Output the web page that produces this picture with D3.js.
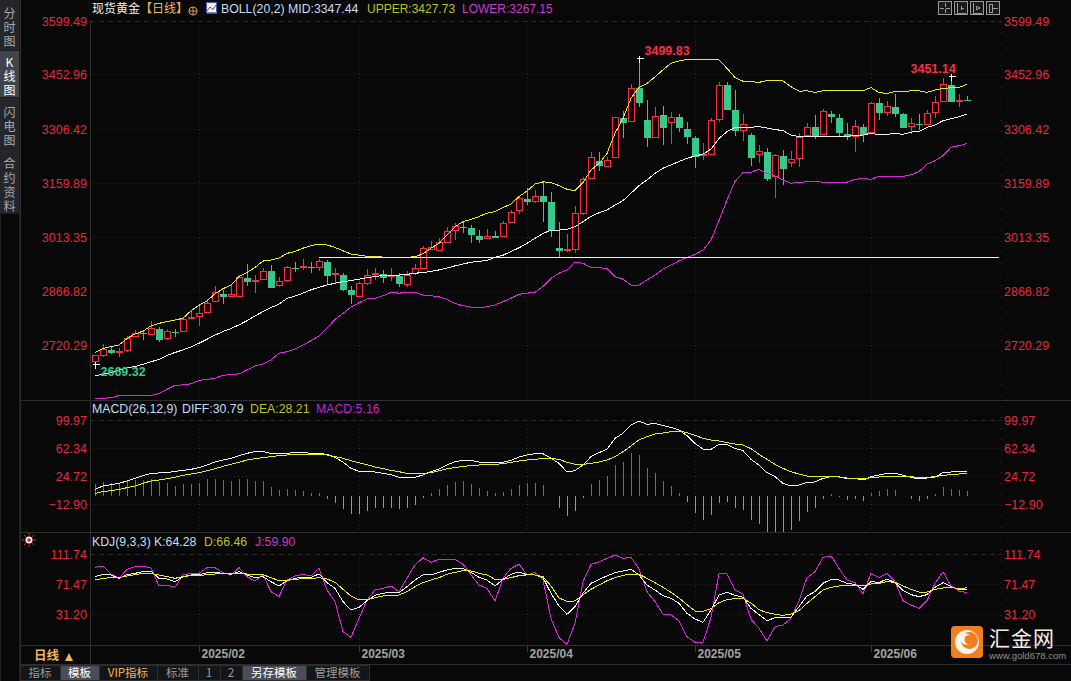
<!DOCTYPE html>
<html>
<head>
<meta charset="utf-8">
<title>现货黄金</title>
<script src="https://cdn.jsdelivr.net/npm/d3@7"></script>
<style>
  html, body { margin: 0; padding: 0; background: #080808; overflow: hidden; }
  svg { display: block; }
  text { font-family: "Liberation Sans", Arial, sans-serif; }
  .cjk { font-family: "Noto Sans CJK SC", sans-serif; }
</style>
</head>
<body>
<div id="chart"></div>
<script>
// tick labels
var priceTicks = [3599.49, 3452.96, 3306.42, 3159.89, 3013.35, 2866.82, 2720.29];
var macdTicks = [99.97, 62.34, 24.72, -12.90];
var kdjTicks = [111.74, 71.47, 31.20];
var monthIdx = [13, 33, 54, 75, 97];
var monthLabels = ["2025/02", "2025/03", "2025/04", "2025/05", "2025/06"];

// daily candles
var opens = [2675,2692,2709,2700,2705,2743,2755,2751,2767,2738,
2759,2757,2792,2800,2811,2838,2861,2852,2854,2905,
2895,2900,2924,2882,2895,2933,2931,2934,2931,2948,
2913,2913,2871,2854,2889,2913,2916,2907,2909,2884,
2914,2930,2980,2980,2998,3031,3042,3040,3019,3010,
3019,3015,3053,3085,3119,3112,3127,3111,2986,2976,
2980,3079,3175,3222,3208,3230,3338,3330,3420,3334,
3287,3347,3325,3342,3309,3285,3235,3238,3334,3429,
3360,3306,3293,3237,3247,3178,3235,3216,3227,3288,
3314,3291,3349,3338,3296,3287,3314,3296,3379,3351,
3369,3349,3313,3322,3319,3354,3383,3428,3384,3388];
var closes = [2692,2709,2700,2703,2738,2752,2753,2766,2737,2757,
2757,2790,2795,2808,2835,2863,2852,2858,2905,2895,
2898,2922,2878,2893,2931,2931,2935,2932,2947,2911,
2915,2872,2857,2888,2911,2916,2906,2909,2886,2909,
2928,2983,2985,3001,3029,3042,3040,3020,3009,3015,
3014,3050,3080,3118,3112,3125,3112,3032,2979,2980,
3078,3170,3231,3208,3223,3338,3324,3419,3378,3286,
3343,3313,3338,3313,3286,3234,3239,3330,3425,3362,
3303,3321,3231,3246,3174,3235,3199,3224,3284,3311,
3290,3354,3340,3296,3288,3314,3293,3376,3351,3368,
3351,3310,3322,3319,3349,3381,3428,3383,3385,3386];
var highs = [2692,2722,2714,2711,2745,2761,2758,2785,2770,2764,
2764,2795,2815,2829,2845,2880,2870,2883,2910,2940,
2910,2928,2937,2905,2935,2946,2954,2946,2954,2951,
2930,2917,2880,2892,2927,2929,2924,2929,2915,2920,
2939,2989,3003,3010,3040,3052,3056,3046,3032,3034,
3030,3056,3087,3123,3145,3141,3163,3135,3055,3022,
3098,3175,3244,3244,3231,3340,3354,3428,3499.83,3385,
3365,3369,3353,3346,3325,3287,3268,3335,3434,3434,
3412,3347,3296,3263,3256,3238,3249,3248,3295,3322,
3344,3362,3356,3347,3322,3331,3320,3381,3390,3382,
3401,3351,3336,3347,3358,3396,3446,3451.14,3401,3396];
var lows = [2669.32,2689,2696,2689,2702,2741,2734,2750,2729,2735,
2743,2756,2792,2772,2808,2838,2832,2852,2854,2881,
2862,2899,2876,2879,2892,2919,2924,2917,2922,2886,
2888,2868,2832,2853,2882,2897,2889,2895,2879,2879,
2910,2930,2978,2978,2996,3005,3025,2998,2996,3007,
3011,3014,3052,3076,3100,3105,3055,3014,2958,2974,
2971,3073,3174,3193,3206,3229,3283,3329,3367,3258,
3286,3264,3265,3299,3266,3201,3222,3236,3325,3360,
3288,3275,3207,3215,3166,3120,3154,3202,3204,3287,
3280,3290,3324,3287,3277,3245,3272,3295,3332,3343,
3339,3308,3294,3304,3316,3337,3381,3382,3366,3386];

// BOLL(20,2)
var bollUpper = [2700,2711,2716,2720,2738,2750,2758,2772,2779,2784,
2788,2793,2813,2828,2840,2859,2873,2883,2906,2917,
2931,2948,2951,2956,2969,2974,2983,2990,2994,2992,
2985,2976,2967,2964,2961,2960,2959,2958,2958,2958,
2960,2968,2983,2996,3019,3041,3055,3061,3069,3078,
3082,3093,3103,3123,3138,3157,3163,3161,3153,3143,
3139,3161,3195,3213,3240,3295,3335,3390,3419,3430,
3448,3467,3485,3491,3495,3495,3495,3495,3494,3471,
3446,3436,3435,3433,3438,3438,3437,3421,3409,3410,
3406,3410,3410,3410,3410,3410,3410,3419,3405,3403,
3408,3408,3410,3410,3406,3412,3417,3418,3419,3427.73];
var bollMid = [2637,2641,2645,2652,2658,2662,2668,2675,2681,2692,
2700,2707,2715,2725,2736,2747,2757,2765,2775,2786,
2799,2811,2822,2831,2847,2853,2861,2870,2877,2883,
2888,2892,2895,2899,2903,2906,2909,2910,2910,2912,
2915,2917,2920,2924,2929,2935,2940,2945,2947,2950,
2958,2964,2974,2984,2996,3010,3023,3032,3032,3034,
3041,3055,3069,3079,3087,3100,3112,3132,3153,3168,
3186,3200,3209,3218,3227,3233,3238,3252,3281,3299,
3311,3310,3311,3313,3309,3305,3302,3290,3286,3286,
3286,3286,3286,3287,3287,3288,3290,3295,3291,3292,
3294,3292,3298,3300,3311,3317,3329,3334,3340,3347.44];
var bollLower = [2575,2576,2577,2583,2582,2582,2583,2583,2589,2600,
2611,2612,2615,2624,2627,2630,2638,2640,2642,2653,
2663,2669,2680,2698,2702,2709,2720,2732,2745,2766,
2790,2806,2823,2835,2845,2847,2854,2863,2861,2863,
2863,2856,2854,2851,2844,2833,2827,2823,2822,2824,
2829,2838,2847,2858,2861,2863,2879,2901,2915,2924,
2945,2942,2931,2930,2928,2906,2899,2883,2883,2897,
2910,2926,2937,2949,2958,2966,2978,3005,3058,3114,
3164,3188,3189,3197,3186,3179,3168,3159,3162,3163,
3164,3162,3162,3162,3162,3170,3172,3170,3178,3178,
3178,3178,3182,3191,3211,3220,3234,3257,3261,3267.15];
var supportLevel = 2957.7;
var supportFrom = 28;
var supportTo = 113;

// MACD(26,12,9)
var diffVals = [6.8,11.3,13.1,14.9,18.0,21.6,25.2,28.3,28.8,29.2,
31.0,32.3,33.7,35.9,39.5,43.5,46.2,48.5,52.0,55.2,
57.4,57.4,55.2,55.2,55.2,56.5,56.5,55.2,55.2,53.8,
49.8,43.5,35.0,31.0,31.0,30.1,28.3,26.5,22.9,22.9,
22.9,26.1,30.5,34.1,39.5,44.0,45.8,45.8,43.5,43.1,
42.2,43.1,45.8,50.2,52.9,
54.7,54.7,48.5,41.7,30.1,31.9,39.5,50.7,56.1,60.6,
75.3,82.1,93.3,98.6,94.1,95.5,92.4,90.1,86.5,78.9,
68.6,61.0,60.6,67.3,67.3,61.9,58.8,47.1,39.5,29.2,
23.8,14.9,11.3,12.6,16.2,16.7,21.6,23.8,23.8,21.1,
21.6,19.3,23.8,26.1,28.3,28.3,25.6,22.9,20.7,22.0,
23.4,29.2,30.1,30.1,30.79];
var deaVals = [1.4,3.7,5.0,6.8,9.0,11.3,14.9,18.0,19.3,21.1,
22.9,25.6,27.4,29.2,31.9,34.6,37.7,40.4,43.1,46.2,
48.0,49.4,50.7,52.0,52.9,53.8,53.8,53.8,54.3,52.9,
50.7,48.5,45.3,42.6,40.0,36.8,34.6,32.3,30.5,28.3,
28.3,28.3,29.2,31.9,34.6,35.9,37.7,38.6,39.5,40.4,
40.4,41.3,43.1,44.9,46.2,
47.1,48.5,48.5,47.1,43.1,40.4,40.4,41.7,43.5,46.2,
50.7,57.4,65.0,73.1,77.6,81.2,82.5,84.3,85.2,83.0,
79.4,75.3,73.1,71.7,69.5,67.7,66.4,61.4,53.8,47.1,
40.4,35.0,30.5,27.4,24.7,24.3,24.3,24.3,23.4,22.0,
22.0,20.7,22.5,23.4,24.3,24.3,24.3,23.8,22.5,22.9,
23.8,25.6,26.5,27.4,28.21];
var macdBars = [13.5,16.7,14.9,14.9,18.0,19.3,18.9,20.2,16.2,14.9,
11.3,14.0,14.0,15.8,20.2,20.7,19.3,18.0,20.7,20.7,
18.0,18.0,10.0,5.9,7.7,5.9,4.6,2.3,1.9,-5.7,
-11.1,-20.1,-26.3,-25.9,-22.3,-18.7,-18.7,-17.8,-20.1,-17.8,
-14.2,-4.4,1.4,7.7,12.6,17.1,18.0,14.0,8.6,4.6,
2.3,3.2,7.3,13.1,14.9,
14.9,12.6,-2.5,-18.3,-28.6,-22.3,-4.4,14.4,19.3,24.7,
39.5,43.5,55.2,52.9,35.5,28.8,18.0,11.3,1.9,-9.8,
-25.0,-34.0,-27.2,-11.5,-9.8,-17.8,-20.5,-34.0,-39.3,-50.1,
-51,-51,-47.4,-35.3,-23.6,-18.3,-5.7,0.5,-3.5,-7.1,
-5.7,-8.4,1.9,4.6,7.7,5.9,-2.2,-6.2,-8.4,-6.2,
0.2,10.0,7.3,5.9,5.16];
var macdBase = -1.5;

// KDJ(9,3,3)
var kVals = [81.3,84.5,83.6,79.1,84.0,85.8,88.0,88.5,79.1,78.2,
74.6,81.3,83.6,83.6,86.7,87.1,85.8,84.5,88.0,83.6,
80.0,81.3,74.6,68.8,75.9,79.1,80.4,80.4,84.9,73.3,
65.7,47.8,36.6,40.2,49.1,56.3,59.0,60.7,59.8,67.9,
76.8,83.6,83.6,87.1,90.3,92.5,92.5,87.1,80.4,76.8,
68.8,77.7,84.5,87.6,83.6,
83.6,80.0,59.0,42.0,30.8,41.0,59.0,72.4,77.7,82.2,
86.7,88.9,91.2,83.6,70.1,63.4,55.8,52.2,45.5,32.1,
24.5,20.0,36.6,56.7,60.3,56.3,53.6,38.8,30.3,22.2,
26.3,26.3,26.7,41.0,55.4,61.2,72.4,77.7,76.8,72.4,
71.0,64.3,74.6,73.7,77.7,73.7,62.5,57.2,54.5,57.2,
67.0,73.3,67.9,64.3,64.28];
var dVals = [76.8,79.1,80.0,80.0,82.2,84.0,85.8,85.8,83.6,81.3,
79.1,81.3,82.7,82.7,84.0,84.9,84.9,84.9,85.8,84.9,
84.5,84.0,80.0,75.9,76.4,77.7,78.6,78.6,80.0,78.2,
73.7,64.3,55.4,50.0,50.5,53.1,55.4,56.7,56.7,61.2,
67.9,73.3,76.8,80.0,84.5,87.1,89.4,89.0,85.8,83.6,
77.7,77.7,80.0,82.7,83.6,
83.6,81.3,68.8,52.7,48.2,48.7,57.2,64.3,70.1,75.9,
80.0,83.1,84.9,84.5,79.1,73.3,67.0,60.3,52.7,43.7,
35.2,34.8,38.4,46.4,50.5,51.8,52.2,46.0,37.0,33.0,
30.8,29.4,31.2,35.7,45.5,54.5,63.4,67.0,68.8,69.2,
69.7,68.8,71.5,72.4,74.6,73.7,68.8,64.3,60.7,60.7,
64.3,66.1,67.0,65.2,66.46];
var jVals = [93.9,95.6,84.5,79.1,91.2,94.7,95.2,93.4,68.8,69.7,
67.0,83.6,85.8,85.8,93.4,93.4,86.7,83.6,93.4,81.3,
75.5,83.6,61.2,54.5,76.8,82.2,84.5,82.2,92.5,63.4,
47.8,7.5,-0.1,25.4,50.0,63.4,65.7,68.8,61.2,79.1,
97.0,106.8,100.6,104.6,104.6,104.6,97.9,83.6,70.1,65.7,
48.7,79.1,92.5,97.9,83.6,
87.1,76.8,25.4,-0.6,-9.5,18.7,74.6,97.9,101.0,105.9,
110.4,105.9,107.3,91.6,61.2,47.8,30.8,29.9,22.2,0.8,
-6.8,-6.8,26.7,85.3,84.9,63.4,58.1,24.1,12.0,-5.0,
14.2,16.4,25.4,49.1,80.0,88.0,107.3,109.1,92.5,76.8,
73.3,58.1,85.8,80.4,85.8,74.6,49.1,43.3,38.8,49.1,
72.4,88.0,68.8,62.1,59.90];

// sidebar and bottom tabs
var sideTabs = [
  {chars: ["分", "时", "图"], y0: 0, y1: 50, ys: [13, 27, 41]},
  {chars: ["K", "线", "图"], y0: 51, y1: 97, ys: [62, 76, 90], on: true},
  {chars: ["闪", "电", "图"], y0: 98, y1: 148, ys: [112, 126, 140]},
  {chars: ["合", "约", "资", "料"], y0: 149, y1: 213, ys: [163, 178, 192, 206]}
];
var bottomTabs = [
  {t: "指标", x0: 20, x1: 60, c: "#9a9a9a"},
  {t: "模板", x0: 60, x1: 99, c: "#ffffff", on: true},
  {t: "VIP指标", x0: 99, x1: 157, c: "#f5b553"},
  {t: "标准", x0: 157, x1: 198, c: "#9a9a9a"},
  {t: "1", x0: 198, x1: 220, c: "#9a9a9a"},
  {t: "2", x0: 220, x1: 242, c: "#9a9a9a"},
  {t: "另存模板", x0: 242, x1: 306, c: "#ffffff", on: true},
  {t: "管理模板", x0: 306, x1: 369, c: "#9a9a9a"}
];

var W = 1071, H = 681;
var RED = "#ff2c46", GREEN = "#36c98b", LABEL = "#e5283f";
var WHITE = "#f2f2f2", YELLOW = "#eaea22", MAGENTA = "#e222e2";
var GRID = "#2b2b2b";

var svg = d3.select("#chart").append("svg").attr("width", W).attr("height", H);
svg.append("rect").attr("width", W).attr("height", H).attr("fill", "#080808");

var x = d3.scaleLinear().domain([0, 109]).range([95, 967]);
var yPrice = d3.scaleLinear().domain([2720.29, 3599.49]).range([345, 21]);
var yMacd = d3.scaleLinear().domain([-12.90, 99.97]).range([504, 420]);
var yKdj = d3.scaleLinear().domain([31.20, 111.74]).range([614, 554]);

var panels = [
  {scale: yPrice, ticks: priceTicks, top: 21, bottom: 400},
  {scale: yMacd, ticks: macdTicks, top: 420, bottom: 532},
  {scale: yKdj, ticks: kdjTicks, top: 554, bottom: 645}
];

svg.append("clipPath").attr("id", "clip-price").append("rect").attr("x", 90).attr("y", 20).attr("width", 911).attr("height", 380);
svg.append("clipPath").attr("id", "clip-macd").append("rect").attr("x", 90).attr("y", 400).attr("width", 911).attr("height", 132);
svg.append("clipPath").attr("id", "clip-kdj").append("rect").attr("x", 90).attr("y", 532).attr("width", 911).attr("height", 113);

// grids and axes
panels.forEach(function(p, pi) {
  var g = svg.append("g").attr("shape-rendering", "crispEdges");
  g.selectAll("line.h").data(p.ticks).enter().append("line")
    .attr("x1", 90).attr("x2", 1001)
    .attr("y1", function(d) { return p.scale(d); })
    .attr("y2", function(d) { return p.scale(d); })
    .attr("stroke", GRID)
    .attr("stroke-dasharray", function(d, i) { return i == 0 ? "5,4" : "1,3"; });
  g.selectAll("line.v").data(monthIdx).enter().append("line")
    .attr("x1", function(d) { return Math.round(x(d)); })
    .attr("x2", function(d) { return Math.round(x(d)); })
    .attr("y1", p.top).attr("y2", p.bottom)
    .attr("stroke", GRID).attr("stroke-dasharray", "1,3");

  var left = d3.axisLeft(p.scale).tickValues(p.ticks).tickSize(0).tickPadding(3).tickFormat(d3.format(".2f"));
  var right = d3.axisRight(p.scale).tickValues(p.ticks).tickSize(0).tickPadding(3).tickFormat(d3.format(".2f"));
  [[left, 90], [right, 1001]].forEach(function(a) {
    var ag = svg.append("g").attr("transform", "translate(" + a[1] + ",0)").call(a[0]);
    ag.select(".domain").remove();
    ag.selectAll("text").attr("fill", LABEL).attr("font-size", "12.5px")
      .attr("font-family", "'Liberation Sans', Arial, sans-serif");
  });
});

// frame lines
var frame = svg.append("g").attr("shape-rendering", "crispEdges");
[400, 532, 645, 664].forEach(function(yy) {
  frame.append("line").attr("x1", 20).attr("x2", W).attr("y1", yy).attr("y2", yy).attr("stroke", "#2e2e2e");
});
frame.append("line").attr("x1", 90).attr("x2", 90).attr("y1", 21).attr("y2", 664).attr("stroke", "#2e2e2e");
frame.append("line").attr("x1", 1001).attr("x2", 1001).attr("y1", 21).attr("y2", 645)
  .attr("stroke", "#3a3a3a").attr("stroke-dasharray", "1,10");
frame.append("line").attr("x1", 20).attr("x2", 20).attr("y1", 0).attr("y2", H).attr("stroke", "#2e2e2e");

// candles
var idx = d3.range(opens.length);
var priceG = svg.append("g").attr("clip-path", "url(#clip-price)").attr("shape-rendering", "crispEdges");
var candle = priceG.selectAll("g.candle").data(idx).enter().append("g");
function isUp(i) { return closes[i] >= opens[i]; }
candle.append("line")
  .attr("x1", function(i) { return Math.round(x(i)) + 0.5; })
  .attr("x2", function(i) { return Math.round(x(i)) + 0.5; })
  .attr("y1", function(i) { return yPrice(highs[i]); })
  .attr("y2", function(i) { return yPrice(lows[i]); })
  .attr("stroke", function(i) { return isUp(i) ? RED : GREEN; });
candle.append("rect")
  .attr("x", function(i) { return Math.round(x(i)) - 3 + (isUp(i) ? 0.5 : 0); })
  .attr("width", function(i) { return isUp(i) ? 6 : 7; })
  .attr("y", function(i) { return Math.round(yPrice(Math.max(opens[i], closes[i]))) + 0.5; })
  .attr("height", function(i) { return Math.max(1, Math.round(Math.abs(yPrice(opens[i]) - yPrice(closes[i])))); })
  .attr("fill", function(i) { return isUp(i) ? "#080808" : GREEN; })
  .attr("stroke", function(i) { return isUp(i) ? RED : "none"; })
  .attr("stroke-width", 1);

// BOLL lines and the level line
function drawLine(parent, scale, vals, color) {
  var line = d3.line().x(function(d, i) { return x(i); }).y(function(d) { return scale(d); });
  parent.append("path").attr("d", line(vals)).attr("fill", "none").attr("stroke", color)
    .attr("stroke-width", 1).attr("shape-rendering", "crispEdges");
}
var bollG = svg.append("g").attr("clip-path", "url(#clip-price)");
drawLine(bollG, yPrice, bollLower, MAGENTA);
drawLine(bollG, yPrice, bollMid, WHITE);
drawLine(bollG, yPrice, bollUpper, YELLOW);
bollG.append("line")
  .attr("x1", x(supportFrom)).attr("x2", x(supportTo))
  .attr("y1", yPrice(supportLevel)).attr("y2", yPrice(supportLevel))
  .attr("stroke", "#fdf8a0").attr("shape-rendering", "crispEdges");

// extreme marks
function markExtreme(i, val, label, color, dx, dy) {
  var px = Math.round(x(i)) + 0.5, py = Math.round(yPrice(val)) + 0.5;
  var m = svg.append("g").attr("shape-rendering", "crispEdges");
  m.append("line").attr("x1", px - 3).attr("x2", px + 4).attr("y1", py).attr("y2", py).attr("stroke", "#ffffff");
  m.append("line").attr("x1", px).attr("x2", px).attr("y1", py - 3).attr("y2", py + 4).attr("stroke", "#ffffff");
  svg.append("text").attr("x", px + dx).attr("y", py + dy).attr("fill", color)
    .attr("font-size", "12.5px").attr("font-weight", "bold").text(label);
}
markExtreme(68, highs[68], "3499.83", RED, 5, -4);
markExtreme(107, highs[107], "3451.14", RED, -41, -4);
markExtreme(0, lows[0], "2669.32", GREEN, 5, 11);

// MACD panel
var macdG = svg.append("g").attr("clip-path", "url(#clip-macd)");
macdG.append("g").attr("shape-rendering", "crispEdges").selectAll("line").data(macdBars).enter().append("line")
  .attr("x1", function(d, i) { return Math.round(x(i)) + 0.5; })
  .attr("x2", function(d, i) { return Math.round(x(i)) + 0.5; })
  .attr("y1", yMacd(macdBase))
  .attr("y2", function(d) { return yMacd(d); })
  .attr("stroke", function(d) { return d >= 0 ? RED : GREEN; });
drawLine(macdG, yMacd, diffVals, WHITE);
drawLine(macdG, yMacd, deaVals, YELLOW);

// KDJ panel
var kdjG = svg.append("g").attr("clip-path", "url(#clip-kdj)");
drawLine(kdjG, yKdj, jVals, MAGENTA);
drawLine(kdjG, yKdj, kVals, WHITE);
drawLine(kdjG, yKdj, dVals, YELLOW);

// month axis
var xAxis = d3.axisBottom(x).tickValues(monthIdx).tickSize(0).tickPadding(0)
  .tickFormat(function(d, i) { return monthLabels[i]; });
var xg = svg.append("g").attr("transform", "translate(0,645)").call(xAxis);
xg.select(".domain").remove();
xg.selectAll("text").attr("fill", "#a3a3a3").attr("font-size", "12px").attr("font-weight", "bold")
  .attr("text-anchor", "start").attr("dx", 2).attr("dy", 0).attr("y", 12.5)
  .attr("font-family", "'Liberation Sans', Arial, sans-serif");
xg.selectAll(".tick").append("line").attr("y1", 0).attr("y2", 7)
  .attr("stroke", "#3a3a3a").attr("shape-rendering", "crispEdges");

// headers
function header(px, py, str, color, cls, size) {
  return svg.append("text").attr("x", px).attr("y", py).attr("fill", color)
    .attr("font-size", size || "13px").attr("class", cls || null).text(str);
}
header(92, 13, "现货黄金", "#f0f0f0", "cjk", "12px");
header(140, 13, "【日线】", "#f5b553", "cjk", "12px");
svg.append("circle").attr("cx", 193).attr("cy", 11).attr("r", 4).attr("fill", "none").attr("stroke", "#d99a3c");
svg.append("path").attr("d", "M188.5 11H197.5M193 6.5V15.5").attr("stroke", "#d99a3c").attr("fill", "none");
svg.append("rect").attr("x", 206.5).attr("y", 2.5).attr("width", 10).attr("height", 10).attr("fill", "#eef2ff").attr("stroke", "#4060c0");
svg.append("path").attr("d", "M207 11L210 7L213 9.5L216 5").attr("stroke", "#d8202a").attr("fill", "none");
svg.append("path").attr("d", "M207 13H217").attr("stroke", "#9ab").attr("fill", "none");
header(221, 13, "BOLL(20,2) MID:3347.44", "#c6dcf2", null, "12.3px");
header(367, 13, "UPPER:3427.73", "#b9c21d", null, "12px");
header(462, 13, "LOWER:3267.15", "#c83cc8", null, "12px");

header(92, 413, "MACD(26,12,9)", "#c6dcf2", null, "12.3px");
header(182, 413, "DIFF:30.79", "#c6dcf2", null, "12.3px");
header(250, 413, "DEA:28.21", "#b9c21d", null, "12.3px");
header(316, 413, "MACD:5.16", "#c026c8", null, "12.3px");

header(92, 546, "KDJ(9,3,3)", "#c6dcf2", null, "12.3px");
header(154, 546, "K:64.28", "#c6dcf2", null, "12.3px");
header(204, 546, "D:66.46", "#b9c21d", null, "12.3px");
header(255, 546, "J:59.90", "#c83cc8", null, "12.3px");

// flash icon beside KDJ
var flash = svg.append("g").attr("transform", "translate(29,540)");
d3.range(8).forEach(function(k) {
  var a = k * Math.PI / 4;
  flash.append("line")
    .attr("x1", 4.5 * Math.cos(a)).attr("y1", 4.5 * Math.sin(a))
    .attr("x2", 7 * Math.cos(a)).attr("y2", 7 * Math.sin(a))
    .attr("stroke", "#e82c3c");
});
flash.append("circle").attr("r", 3.5).attr("fill", "#ffffff");
flash.append("circle").attr("r", 1.8).attr("fill", "#e0101c");

// sidebar
svg.append("rect").attr("width", 20).attr("height", H).attr("fill", "#1c1d21");
svg.append("rect").attr("x", 1).attr("y", 214).attr("width", 18).attr("height", H - 214).attr("fill", "#080808");
sideTabs.forEach(function(t) {
  svg.append("rect").attr("x", 0).attr("y", t.y0).attr("width", 19).attr("height", t.y1 - t.y0)
    .attr("fill", t.on ? "#42444c" : "#25262b");
  t.chars.forEach(function(c, i) {
    svg.append("text").attr("x", 9.5).attr("y", t.ys[i] + 4.5).attr("text-anchor", "middle")
      .attr("class", "cjk").attr("font-size", "12px")
      .attr("fill", t.on ? "#ffffff" : "#a8a8a8").text(c);
  });
});

// period box
svg.append("text").attr("x", 34).attr("y", 660).attr("class", "cjk").attr("font-size", "12.5px")
  .attr("font-weight", "bold").attr("fill", "#f5b553").text("日线");
svg.append("path").attr("d", "M65 661L69 653L73 661Z").attr("fill", "#f5b553");

// bottom tabs
bottomTabs.forEach(function(t) {
  svg.append("rect").attr("x", t.x0).attr("y", 665).attr("width", t.x1 - t.x0).attr("height", 15)
    .attr("fill", t.on ? "#4a4c58" : "#141518").attr("stroke", "#2e2e2e").attr("shape-rendering", "crispEdges");
  svg.append("text").attr("x", (t.x0 + t.x1) / 2).attr("y", 677).attr("text-anchor", "middle")
    .attr("class", "cjk").attr("font-size", "11.5px").attr("fill", t.c).text(t.t);
});

// toolbar buttons top right
[938, 954, 970, 986].forEach(function(bx, k) {
  var b = svg.append("g").attr("transform", "translate(" + bx + ",1)").attr("shape-rendering", "crispEdges");
  b.append("rect").attr("x", 0.5).attr("y", 0.5).attr("width", 13).attr("height", 13).attr("fill", "#1a1a1a").attr("stroke", "#9a9a9a");
  var glyphs = ["M7 2V6M7 8V12M2 7H6M8 7H12", "M3 2V12H12M7 5V9M10 7H8", "M3 2V12H12M6 5L10 7L6 9Z", "M3 3H6V11H3ZM7 7H12"];
  b.append("path").attr("d", glyphs[k]).attr("fill", "none").attr("stroke", "#9a9a9a");
});

// watermark
var logo = svg.append("g").attr("transform", "translate(951,626)");
logo.append("rect").attr("width", 32).attr("height", 32).attr("rx", 4).attr("fill", "#f07f1c");
logo.append("circle").attr("cx", 16).attr("cy", 16).attr("r", 12).attr("fill", "#fdf4ea");
logo.append("circle").attr("cx", 18.5).attr("cy", 14.5).attr("r", 8.5).attr("fill", "#f07f1c");
logo.append("circle").attr("cx", 15).attr("cy", 13).attr("r", 5.5).attr("fill", "#fdf4ea");
logo.append("circle").attr("cx", 18).attr("cy", 13.5).attr("r", 4.5).attr("fill", "#f07f1c");
svg.append("text").attr("x", 989).attr("y", 646).attr("class", "cjk").attr("font-size", "21px")
  .attr("letter-spacing", "1px").attr("fill", "#f4efe6").text("汇金网");
svg.append("text").attr("x", 989).attr("y", 658.5).attr("font-size", "9.5px")
  .attr("fill", "#8f8f8f").text("www.gold678.com");
</script>
</body>
</html>
